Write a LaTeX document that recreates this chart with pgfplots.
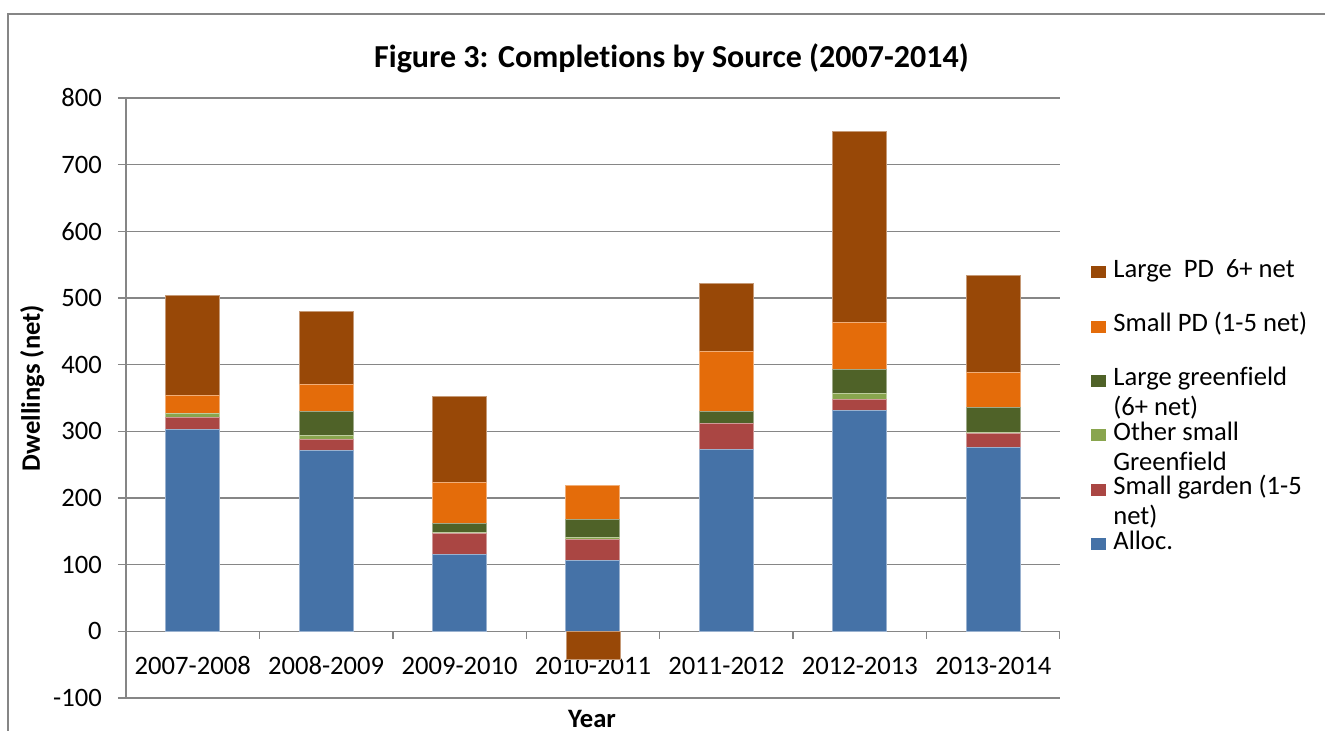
\documentclass[border=0pt]{standalone}
\usepackage{pgfplots}
\pgfplotsset{compat=1.18}
\usepackage{fontspec}
\setmainfont{Carlito}[Ligatures=NoCommon]
\definecolor{cAlloc}{HTML}{4572A7}
\definecolor{cGarden}{HTML}{AA4643}
\definecolor{cOther}{HTML}{89A54E}
\definecolor{cLgreen}{HTML}{4F6228}
\definecolor{cSpd}{HTML}{E46C0A}
\definecolor{cLpd}{HTML}{984807}
\definecolor{gridgray}{HTML}{868686}
\newcommand{\lentry}[1]{\hspace*{2pt}\raisebox{0pt}[9pt][3pt]{\parbox[t]{130pt}{\raggedright #1}}}
\begin{document}
\begin{tikzpicture}
\useasboundingbox (-63pt,-16.5pt) rectangle (599.5pt,349pt);
\draw[gridgray, line width=0.9pt] (-59pt,-30pt) -- (-59pt,342pt) -- (620pt,342pt);
\begin{axis}[
  at={(0pt,0pt)}, anchor=south west,
  scale only axis, width=467pt, height=300pt,
  ybar stacked, bar width=27pt,
  xmin=-0.5, xmax=6.5, ymin=-100, ymax=800,
  xtick={0,...,6},
  xticklabels={2007-2008,2008-2009,2009-2010,2010-2011,2011-2012,2012-2013,2013-2014},
  ytick={-100,0,...,800},
  axis lines*=left,
  axis line style={-, gridgray, line width=0.65pt},
  tick align=outside, major tick length=4pt,
  xtick style={draw=none},
  ytick style={gridgray, line width=0.65pt},
  ymajorgrids=true,
  major grid style={gridgray, line width=0.65pt},
  /pgf/number format/assume math mode=true,
  tick label style={font=\fontsize{13.3}{15}\selectfont},
  yticklabel style={xshift=-4.6pt},
  xticklabel style={anchor=base, yshift=15.5pt},
  title={Figure 3: Completions by Source (2007-2014)},
  title style={at={(axis description cs:0.584,1.0567)}, anchor=base, yshift=-8pt, font=\bfseries\fontsize{16}{19}\selectfont},
  xlabel={Year},
  xlabel style={at={(axis description cs:0.499,-0.049)}, anchor=base, font=\bfseries\fontsize{13.3}{15}\selectfont},
  ylabel={Dwellings (net)},
  ylabel style={at={(axis description cs:-0.0921,0.5167)}, anchor=base, font=\bfseries\fontsize{13.3}{15}\selectfont},
  reverse legend,
  legend style={at={(axis description cs:1.0332,0.737)}, anchor=north west, draw=none, fill=none, inner sep=0pt, row sep=13.7pt, font=\fontsize{13.3}{15}\selectfont, nodes={inner sep=1.5pt}, cells={anchor=base west}},
  legend image code/.code={\fill[#1,draw=none] (0.5pt,-0.5pt) rectangle (8pt,5.5pt);},
]
\addplot[fill=cAlloc, draw=cAlloc!55!white, line width=0.5pt] coordinates {(0,303) (1,271) (2,115) (3,106) (4,272) (5,331) (6,276)};
\addlegendentry{\lentry{Alloc.}}
\addplot[fill=cGarden, draw=cGarden!55!white, line width=0.5pt] coordinates {(0,17) (1,17) (2,32) (3,31) (4,40) (5,16) (6,20)};
\addlegendentry{\lentry{Small garden (1-5\\net)}}
\addplot[fill=cOther, draw=cOther!55!white, line width=0.5pt] coordinates {(0,6) (1,6) (2,1) (3,4) (4,0) (5,10) (6,2)};
\addlegendentry{\lentry{Other small\\Greenfield}}
\addplot[fill=cLgreen, draw=cLgreen!55!white, line width=0.5pt] coordinates {(0,0) (1,35) (2,14) (3,27) (4,18) (5,36) (6,37)};
\addlegendentry{\lentry{Large greenfield\\(6+ net)}}
\addplot[fill=cSpd, draw=cSpd!55!white, line width=0.5pt] coordinates {(0,28) (1,41) (2,61) (3,51) (4,90) (5,70) (6,53)};
\addlegendentry{\lentry{Small PD (1-5 net)}}
\addplot[fill=cLpd, draw=cLpd!55!white, line width=0.5pt] coordinates {(0,149) (1,109) (2,129) (3,0) (4,102) (5,287) (6,146)};
\addlegendentry{\lentry{Large~ PD~ 6+ net}}
\pgfplotsinvokeforeach{0.5,1.5,2.5,3.5,4.5,5.5,6.5}{
  \draw[gridgray, line width=0.65pt] (axis cs:#1,0) -- ++(0pt,-4pt);
}
\end{axis}
\begin{axis}[
  at={(0pt,0pt)}, anchor=south west,
  scale only axis, width=467pt, height=300pt,
  xmin=-0.5, xmax=6.5, ymin=-100, ymax=800,
  hide axis, ybar, bar width=27pt, bar shift=0pt,
]
\addplot[fill=cLpd, draw=cLpd!55!white, line width=0.5pt] coordinates {(3,-42)};
\end{axis}
\end{tikzpicture}
\end{document}
